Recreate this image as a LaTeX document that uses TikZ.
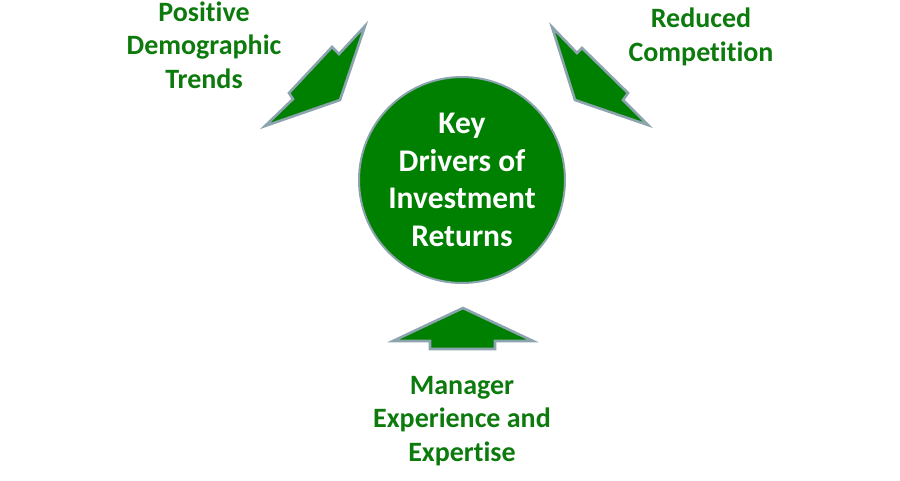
\documentclass[tikz,border=0pt]{standalone}
\usepackage{fontspec}
\setmainfont[Ligatures=CommonOff]{Carlito}
\setsansfont[Ligatures=CommonOff]{Carlito}
\definecolor{leafgreen}{RGB}{0,128,0}
\definecolor{labelgreen}{RGB}{12,122,12}
\definecolor{rimgray}{RGB}{140,164,174}
\tikzset{
  driver/.style={font=\bfseries\fontsize{28}{33.5}\selectfont, text=labelgreen, align=center},
  bolt/.style={fill=leafgreen, draw=rimgray, line width=2.6pt, line join=miter},
}
\begin{document}
\begin{tikzpicture}[x=1pt, y=-1pt]
  \useasboundingbox (0,0) rectangle (900,480);

  % centre circle
  \node[circle, fill=leafgreen, draw=rimgray, line width=2pt, minimum size=206pt,
        inner sep=0pt, text=white, align=center, font=\bfseries\fontsize{31.5}{37.5}\selectfont]
        (hub) at (462,180) {Key\\Drivers of\\Investment\\Returns};

  % arrow from upper left
  \draw[bolt] (365,26) -- (340,100) -- (265,126) -- (293,99) -- (289,93)
    -- (332,47) -- (339,54) -- cycle;

  % arrow from upper right
  \draw[bolt] (552,27) -- (575,100) -- (648,125) -- (623,100) -- (628,93)
    -- (582,48) -- (577,53) -- cycle;

  % arrow from below
  \draw[bolt] (463,308) -- (533,341) -- (495,341) -- (495,349) -- (430,349)
    -- (430,341) -- (393,341) -- cycle;

  % labels
  \node[driver] (demo) at (204,45) {Positive\\Demographic\\Trends};
  \node[driver] (comp) at (701,37) {Reduced\\Competition};
  \node[driver] (mgr) at (462,421) {Manager\\Experience and\\Expertise};
\end{tikzpicture}
\end{document}
